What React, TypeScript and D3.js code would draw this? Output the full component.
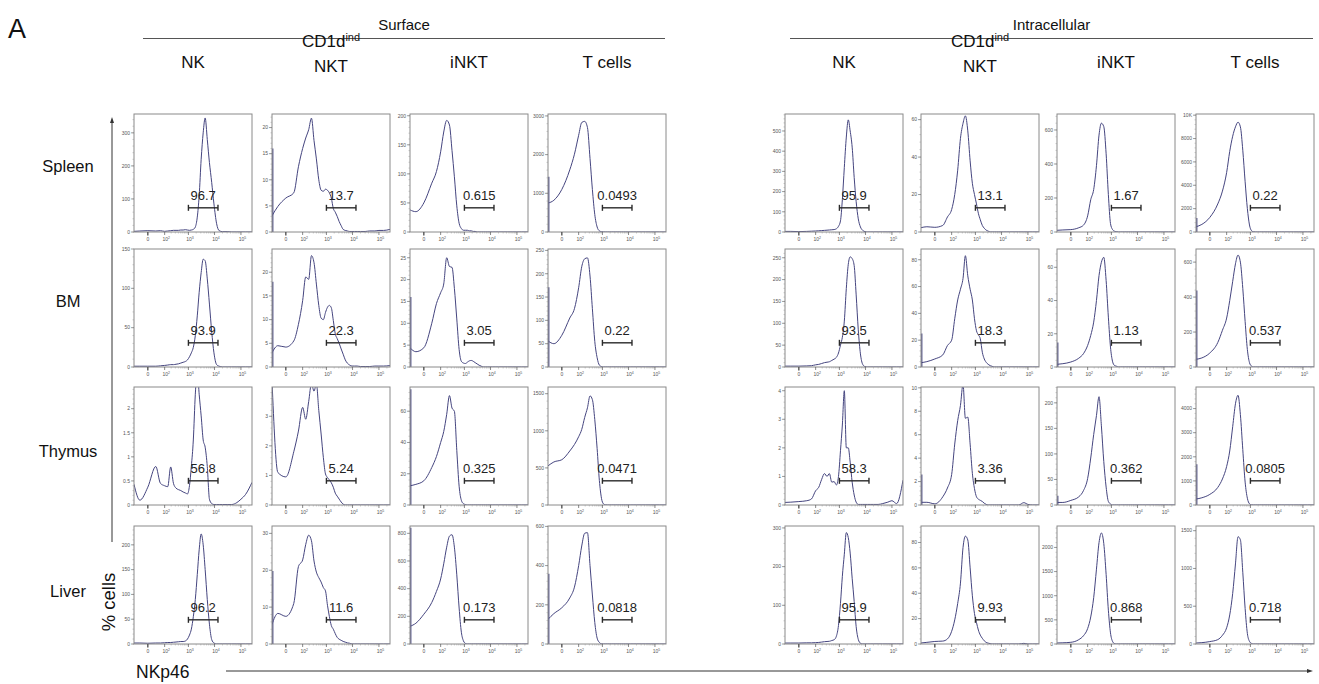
import React from 'react';
import * as d3 from 'd3';

// NKp46 intensity bins shared by all histograms (biexponential-like axis)
const BINS = [-70, -30, 0, 30, 60, 100, 140, 190, 250, 320, 400, 500, 620, 760, 920, 1100, 1300, 1550, 1850, 2200,
  2600, 3100, 3700, 4400, 5300, 6400, 7800, 9500, 12000, 15000, 20000, 30000, 45000, 70000, 100000, 150000, 262144];

const ROWS = ['Spleen', 'BM', 'Thymus', 'Liver'];
const GROUPS = ['Surface', 'Intracellular'];
const GATE = [1000, 13500];
const X_TICKS = [0, 100, 1000, 10000, 100000];
const X_TICK_EXP = ['', '2', '3', '4', '5'];

// ---- surface staining ----
const sSpNK = [2, 3, 4, 3, 4, 2, 3, 4, 5, 5, 5, 6, 6, 7, 6, 5, 6, 8, 15, 45, 110, 220, 300, 345, 280, 210, 150, 85, 25, 4, 1, 1, 0, 0, 0, 0, 0];
const sSpCD1d = [3.1, 4.9, 6.5, 7.5, 12.5, 16, 18, 19.6, 21.8, 17.5, 14, 10, 8, 7.8, 8.2, 8, 7.5, 6.5, 4.5, 3.8, 3.0, 2.0, 1.2, 0.5, 0.3, 0.2, 0.1, 0.1, 0.1, 0.1, 0.1, 0.1, 0.2, 0.2, 0.3, 0.3, 0.5];
const sSpINKT = [38, 35, 50, 84, 104, 138, 172, 192, 184, 140, 95, 45, 15, 6, 3, 3, 3, 2, 2, 1, 1, 0, 0, 0, 0, 0, 0, 0, 0, 0, 0, 0, 0, 0, 0, 0, 0];
const sSpT = [748, 820, 1100, 1607, 2010, 2500, 2830, 2860, 2700, 1900, 1100, 450, 130, 30, 8, 2, 0, 0, 0, 0, 0, 0, 0, 0, 0, 0, 0, 0, 0, 0, 0, 0, 0, 0, 0, 0, 0];

const sBmNK = [1, 1, 1, 1, 1.5, 2, 2.5, 3, 3, 3.5, 4, 5, 6, 7, 9, 13, 18, 25, 40, 65, 95, 120, 137, 135, 112, 80, 45, 18, 3, 1, 0, 0, 0, 0, 0, 0, 0];
const sBmCD1d = [3, 4.5, 4.2, 5.5, 9, 14, 19, 18.5, 23.5, 22, 17.5, 13, 10.3, 10, 11.5, 12.6, 13, 12.5, 9.8, 7, 6, 5, 3.8, 2.7, 1.5, 0.8, 0.4, 0.2, 0.2, 0.2, 0.1, 0.1, 0.1, 0.2, 0.2, 0.2, 0.3];
const sBmINKT = [4.4, 3.5, 4.4, 10, 14.5, 17, 19, 25, 23, 22.8, 18, 11, 4, 1.3, 0.9, 0.8, 1.1, 1.4, 1.5, 1.3, 1, 0.7, 0.4, 0.2, 0, 0, 0, 0, 0, 0, 0, 0, 0, 0, 0, 0, 0];
const sBmT = [56, 50, 68, 105, 125, 170, 215, 232, 234, 195, 125, 55, 20, 4, 1, 0, 0, 0, 0, 0, 0, 0, 0, 0, 0, 0, 0, 0, 0, 0, 0, 0, 0, 0, 0, 0, 0];

const sThNK = [0.43, 0.1, 0.37, 0.8, 0.45, 0.4, 0.38, 0.79, 0.45, 0.35, 0.32, 0.3, 0.27, 0.25, 0.23, 0.4, 0.8, 1.35, 2.3, 2.8, 2.3, 1.85, 1.35, 1.2, 0.8, 0.12, 0.03, 0.01, 0.01, 0.01, 0.01, 0.01, 0.01, 0.05, 0.12, 0.22, 0.47];
const sThCD1d = [4.2, 1.1, 0.95, 1.8, 2.5, 3.3, 2.9, 3.5, 4.1, 3.85, 4.1, 3.2, 2.4, 1.6, 1.05, 0.93, 0.85, 0.75, 0.6, 0.4, 0.3, 0.2, 0.1, 0.03, 0, 0, 0, 0, 0, 0, 0, 0, 0, 0, 0, 0, 0];
const sThINKT = [12.3, 13.2, 15.5, 24, 31, 40, 47, 58, 70, 62, 60, 35, 12, 3, 0.8, 0.3, 0, 0, 0, 0, 0, 0, 0, 0, 0, 0, 0, 0, 0, 0, 0, 0, 0, 0, 0, 0, 0];
const sThT = [527, 580, 610, 728, 815, 920, 1018, 1180, 1310, 1470, 1420, 1150, 760, 330, 90, 15, 2, 0, 0, 0, 0, 0, 0, 0, 0, 0, 0, 0, 0, 0, 0, 0, 0, 0, 0, 0, 0];

const sLvNK = [2, 2, 1.5, 2, 2, 2.5, 3, 3, 3.5, 4, 4.5, 5, 5, 6, 10, 18, 30, 55, 90, 140, 190, 222, 200, 150, 90, 40, 9, 2, 0, 0, 0, 0, 0, 0, 0, 0, 0];
const sLvCD1d = [5.3, 8.3, 7.5, 11, 21, 22.8, 27, 29.5, 28, 22.5, 19.5, 18, 16.8, 15.3, 14.4, 10.5, 7.5, 5, 4, 2.8, 1.8, 1.3, 1, 0.7, 0.5, 0.3, 0.2, 0, 0, 0, 0, 0, 0, 0, 0, 0, 0];
const sLvINKT = [128, 150, 215, 300, 380, 470, 580, 700, 780, 790, 700, 500, 260, 85, 22, 4, 0, 0, 0, 0, 0, 0, 0, 0, 0, 0, 0, 0, 0, 0, 0, 0, 0, 0, 0, 0, 0];
const sLvT = [126, 155, 185, 235, 290, 400, 500, 565, 568, 400, 250, 110, 30, 8, 1, 0, 0, 0, 0, 0, 0, 0, 0, 0, 0, 0, 0, 0, 0, 0, 0, 0, 0, 0, 0, 0, 0];

// ---- intracellular staining ----
const iSpNK = [3, 3, 2, 3, 4, 5, 6, 7, 8, 9, 10, 11, 12, 16, 28, 55, 160, 320, 470, 555, 500, 420, 270, 150, 65, 25, 8, 2, 0, 0, 0, 0, 0, 0, 0, 0, 0];
const iSpCD1d = [2.3, 2.8, 2.5, 3.5, 8, 12, 20, 33, 50, 58, 62, 54, 38, 26, 20, 15, 10, 6.5, 3.5, 2, 1, 0.5, 0, 0, 0, 0, 0, 0, 0, 0, 0, 0, 0, 0, 0, 0, 0];
const iSpINKT = [10, 12, 14, 25, 40, 95, 190, 250, 390, 570, 640, 620, 460, 220, 50, 15, 5, 2, 0, 0, 0, 0, 0, 0, 0, 0, 0, 0, 0, 0, 0, 0, 0, 0, 0, 0, 0];
const iSpT = [450, 650, 1250, 2400, 3500, 5100, 6900, 8200, 9000, 9400, 9000, 7000, 4300, 2000, 600, 120, 20, 0, 0, 0, 0, 0, 0, 0, 0, 0, 0, 0, 0, 0, 0, 0, 0, 0, 0, 0, 0];

const iBmNK = [2, 2, 2, 2.5, 3, 5, 6, 8, 10, 11, 12, 15, 18, 22, 32, 50, 68, 105, 180, 235, 252, 248, 232, 165, 85, 30, 6, 1, 0, 0, 0, 0, 0, 0, 0, 0, 0];
const iBmCD1d = [3.2, 4, 6, 9, 16, 20, 36, 50, 58, 66, 83, 68, 58, 50, 36, 27, 24, 21, 11, 6, 3.5, 2, 1, 0.5, 0, 0, 0, 0, 0, 0, 0, 0, 0, 0, 0, 0, 0];
const iBmINKT = [1.6, 2, 3, 5.3, 8, 13, 19, 27, 40, 55, 63, 66, 52, 30, 12, 3.5, 1, 0.5, 0, 0, 0, 0, 0, 0, 0, 0, 0, 0, 0, 0, 0, 0, 0, 0, 0, 0, 0];
const iBmT = [44, 52, 80, 140, 210, 280, 380, 490, 590, 640, 600, 450, 260, 100, 25, 5, 0, 0, 0, 0, 0, 0, 0, 0, 0, 0, 0, 0, 0, 0, 0, 0, 0, 0, 0, 0, 0];

const iThNK = [0.09, 0.1, 0.12, 0.15, 0.21, 0.5, 0.62, 0.9, 1.1, 1.0, 1.1, 0.8, 0.82, 0.7, 1.0, 1.9, 2.8, 4.0, 2.0, 2.0, 1.5, 0.8, 0.35, 0.1, 0.02, 0.02, 0.02, 0.02, 0.02, 0.02, 0.02, 0.02, 0.05, 0.1, 0.15, 0.05, 0.87];
const iThCD1d = [0.23, 0.23, 0.1, 0.7, 1.45, 2.6, 5.2, 7.2, 8.5, 10.3, 7.4, 7.5, 5.2, 2.7, 1.4, 0.7, 0.5, 0.4, 0.3, 0.15, 0.05, 0, 0, 0, 0, 0, 0, 0, 0, 0, 0, 0, 0, 0.2, 0.05, 0, 0];
const iThINKT = [5, 5, 9, 16, 28, 52, 92, 138, 175, 212, 155, 85, 35, 7, 2, 0, 0, 0, 0, 0, 0, 0, 0, 0, 0, 0, 0, 0, 0, 0, 0, 0, 0, 0, 0, 0, 0];
const iThT = [247, 300, 440, 729, 1080, 1600, 2240, 3250, 4200, 4550, 3750, 2300, 950, 280, 50, 5, 0, 0, 0, 0, 0, 0, 0, 0, 0, 0, 0, 0, 0, 0, 0, 0, 0, 0, 0, 0, 0];

const iLvNK = [2.5, 2.5, 2.5, 3, 3, 3.5, 4, 5, 6, 6.5, 7, 9, 11, 20, 48, 105, 175, 232, 288, 275, 235, 170, 110, 45, 12, 2, 0, 0, 0, 0, 0, 0, 0, 0, 0, 0, 0];
const iLvCD1d = [0.8, 1.3, 2, 2.3, 4, 10, 19, 32, 48, 76, 85, 82, 60, 38, 24, 17, 11, 7, 4.5, 2.5, 1.3, 0.7, 0.3, 0, 0, 0, 0, 0, 0, 0, 0, 0, 0, 0.5, 0, 0, 0];
const iLvINKT = [21, 25, 35, 90, 170, 320, 560, 960, 1550, 2100, 2300, 2080, 1440, 700, 230, 56, 10, 0, 0, 0, 0, 0, 0, 0, 0, 0, 0, 0, 0, 0, 0, 0, 0, 0, 0, 0, 0];
const iLvT = [13, 18, 32, 58, 115, 215, 385, 670, 1060, 1420, 1380, 950, 470, 140, 35, 8, 0, 0, 0, 0, 0, 0, 0, 0, 0, 0, 0, 0, 0, 0, 0, 0, 0, 0, 0, 0, 0];

const surfaceCounts = [[sSpNK, sSpCD1d, sSpINKT, sSpT], [sBmNK, sBmCD1d, sBmINKT, sBmT], [sThNK, sThCD1d, sThINKT, sThT], [sLvNK, sLvCD1d, sLvINKT, sLvT]];
const intraCounts = [[iSpNK, iSpCD1d, iSpINKT, iSpT], [iBmNK, iBmCD1d, iBmINKT, iBmT], [iThNK, iThCD1d, iThINKT, iThT], [iLvNK, iLvCD1d, iLvINKT, iLvT]];

// lowest-channel pile-up drawn on the left edge
const surfaceEdge = [[0, 16, 0, 1430], [0, 18, 16, 171], [0, 0, 74, 0], [0, 19.8, 840, 359]];
const intraEdge = [[0, 0, 0, 1190], [0, 25, 14.7, 437], [0, 2.6, 18, 1690], [0, 0, 0, 0]];

const surfaceYMax = [[357, 22.6, 203, 3050], [150, 24.9, 27, 253], [2.45, 3.99, 75.5, 1590], [238, 32, 853, 602]];
const surfaceYStep = [[100, 5, 50, 1000], [50, 5, 5, 50], [0.5, 1, 20, 500], [50, 10, 200, 200]];
const intraYMax = [[584, 63, 694, 10100], [270, 88, 71, 675], [4.13, 10.07, 231, 4895], [305, 93, 2444, 1562]];
const intraYStep = [[100, 20, 200, 2000], [50, 20, 20, 200], [1, 2, 50, 1000], [100, 20, 500, 500]];

const surfacePct = [[96.7, 13.7, 0.615, 0.0493], [93.9, 22.3, 3.05, 0.22], [56.8, 5.24, 0.325, 0.0471], [96.2, 11.6, 0.173, 0.0818]];
const intraPct = [[95.9, 13.1, 1.67, 0.22], [93.5, 18.3, 1.13, 0.537], [58.3, 3.36, 0.362, 0.0805], [95.9, 9.93, 0.868, 0.718]];

// layout
const PW = 118, PH = 118;
const COL_X = [[134, 272, 410, 548], [785, 921, 1057, 1196]];
const ROW_Y = [114, 249, 387, 526];
const ROW_LABEL_Y = [172, 307, 457, 597];
const FONT = '"Liberation Sans", Arial, Helvetica, sans-serif';
const LINE_COLOR = '#45457f';

const fmtTick = (v: number) => (v >= 10000 ? `${v / 1000}K` : String(+v.toFixed(3)));

const Panel = ({ id, left, top, counts, yMax, yStep, edge, pct }: any) => {
  const x = d3.scaleSymlog().constant(30).domain([BINS[0], BINS[BINS.length - 1]]).range([0, PW]);
  const y = d3.scaleLinear().domain([0, yMax]).range([PH, 0]);
  const line = d3.line<number>()
    .x((_, i) => x(BINS[i]))
    .y(d => y(d))
    .curve(d3.curveMonotoneX);
  const yTicks = d3.range(0, yMax + 1e-9, yStep);
  const yMinor = d3.range(0, yMax, yStep / 5);
  const xMinor: number[] = [];
  for (let e = 2; e <= 5; e++) {
    for (let m = 2; m <= 9; m++) {
      const v = m * Math.pow(10, e);
      if (v < BINS[BINS.length - 1]) xMinor.push(v);
    }
  }
  const gy = PH * 0.795;
  const g0 = x(GATE[0]), g1 = x(GATE[1]);
  return (
    <g transform={`translate(${left},${top})`}>
      <defs>
        <clipPath id={id}>
          <rect x={0} y={0} width={PW} height={PH} />
        </clipPath>
      </defs>
      <g clipPath={`url(#${id})`}>
        <path d={line(counts) || ''} fill="none" stroke={LINE_COLOR} strokeWidth={1} />
        {edge > 0 && (
          <line x1={0.8} x2={0.8} y1={y(0)} y2={y(Math.min(edge, yMax))} stroke={LINE_COLOR} strokeWidth={1.2} />
        )}
      </g>
      <rect x={0} y={0} width={PW} height={PH} fill="none" stroke="#8a8a8a" strokeWidth={1} />
      {/* y axis */}
      {yMinor.map((v, i) => (
        <line key={'ym' + i} x1={-1.5} x2={0} y1={y(v)} y2={y(v)} stroke="#999" strokeWidth={0.5} />
      ))}
      {yTicks.map((v, i) => (
        <g key={'yt' + i}>
          <line x1={-3} x2={0} y1={y(v)} y2={y(v)} stroke="#777" strokeWidth={0.7} />
          <text x={-4} y={y(v) + 1.8} textAnchor="end" fontSize={5} fill="#555" fontFamily={FONT}>
            {fmtTick(v)}
          </text>
        </g>
      ))}
      {/* x axis */}
      {xMinor.map((v, i) => (
        <line key={'xm' + i} x1={x(v)} x2={x(v)} y1={PH} y2={PH + 1.5} stroke="#999" strokeWidth={0.5} />
      ))}
      {X_TICKS.map((v, i) => (
        <g key={'xt' + i}>
          <line x1={x(v)} x2={x(v)} y1={PH} y2={PH + (v === 0 ? 3.5 : 3)} stroke="#555" strokeWidth={v === 0 ? 1.4 : 0.7} />
          <text x={x(v) + (i === 0 ? 0 : 1.5)} y={PH + 9} textAnchor="middle" fontSize={5} fill="#555" fontFamily={FONT}>
            {i === 0 ? '0' : '10'}
            {i > 0 && (
              <tspan dy={-2} fontSize={3.5}>
                {X_TICK_EXP[i]}
              </tspan>
            )}
          </text>
        </g>
      ))}
      {/* gate */}
      <g stroke="#2a2a2a" strokeWidth={1.4}>
        <line x1={g0} x2={g1} y1={gy} y2={gy} />
        <line x1={g0} x2={g0} y1={gy - 3} y2={gy + 3} />
        <line x1={g1} x2={g1} y1={gy - 3} y2={gy + 3} />
      </g>
      <text x={(g0 + g1) / 2} y={gy - 8} textAnchor="middle" fontSize={13} fill="#222" fontFamily={FONT}>
        {String(pct)}
      </text>
    </g>
  );
};

const ColumnHeaders = ({ lefts }: { lefts: number[] }) => (
  <g fontFamily={FONT} fontSize={17} fill="#111" textAnchor="middle">
    <text x={lefts[0] + PW / 2} y={68}>NK</text>
    <text x={lefts[1] + PW / 2} y={47}>
      CD1d<tspan dy={-6} fontSize={11}>ind</tspan>
    </text>
    <text x={lefts[1] + PW / 2} y={72}>NKT</text>
    <text x={lefts[2] + PW / 2} y={68}>iNKT</text>
    <text x={lefts[3] + PW / 2} y={68}>T cells</text>
  </g>
);

export default function App() {
  const groups = [
    { counts: surfaceCounts, edge: surfaceEdge, yMax: surfaceYMax, yStep: surfaceYStep, pct: surfacePct },
    { counts: intraCounts, edge: intraEdge, yMax: intraYMax, yStep: intraYStep, pct: intraPct },
  ];
  return (
    <svg width={1319} height={684} style={{ position: 'absolute', left: 0, top: 0, background: '#fff' }}>
      <rect width={1319} height={684} fill="#fff" />
      <text x={8} y={38} fontSize={27} fontFamily={FONT} fill="#111">A</text>

      {GROUPS.map((name, gi) => {
        const lefts = COL_X[gi];
        const x0 = lefts[0] + (gi === 0 ? 9 : 5);
        const x1 = lefts[3] + PW + (gi === 0 ? -1 : -1);
        return (
          <g key={name}>
            <text x={(x0 + x1) / 2} y={30} textAnchor="middle" fontSize={15} fontFamily={FONT} fill="#111">{name}</text>
            <line x1={x0} x2={x1} y1={38.5} y2={38.5} stroke="#555" strokeWidth={1} />
            <ColumnHeaders lefts={lefts} />
          </g>
        );
      })}

      {ROWS.map((r, ri) => (
        <text key={r} x={68} y={ROW_LABEL_Y[ri]} textAnchor="middle" fontSize={16.5} fontFamily={FONT} fill="#111">{r}</text>
      ))}

      {groups.map((g, gi) =>
        ROWS.map((r, ri) =>
          COL_X[gi].map((left, ci) => (
            <Panel
              key={`${gi}-${ri}-${ci}`}
              id={`clip-${gi}-${ri}-${ci}`}
              left={left}
              top={ROW_Y[ri]}
              counts={g.counts[ri][ci]}
              yMax={g.yMax[ri][ci]}
              yStep={g.yStep[ri][ci]}
              edge={g.edge[ri][ci]}
              pct={g.pct[ri][ci]}
            />
          ))
        )
      )}

      {/* % cells axis arrow */}
      <line x1={112} x2={112} y1={542} y2={122} stroke="#333" strokeWidth={1} />
      <path d="M112,117 L110,123 L114,123 Z" fill="#333" />
      <text transform="translate(115,602) rotate(-90)" textAnchor="middle" fontSize={18.5} fontFamily={FONT} fill="#111">% cells</text>

      {/* NKp46 axis arrow */}
      <text x={136} y={678} fontSize={17.5} fontFamily={FONT} fill="#111">NKp46</text>
      <line x1={226} x2={1308} y1={671} y2={671} stroke="#333" strokeWidth={1} />
      <path d="M1313,671 L1307,669 L1307,673 Z" fill="#333" />
    </svg>
  );
}
